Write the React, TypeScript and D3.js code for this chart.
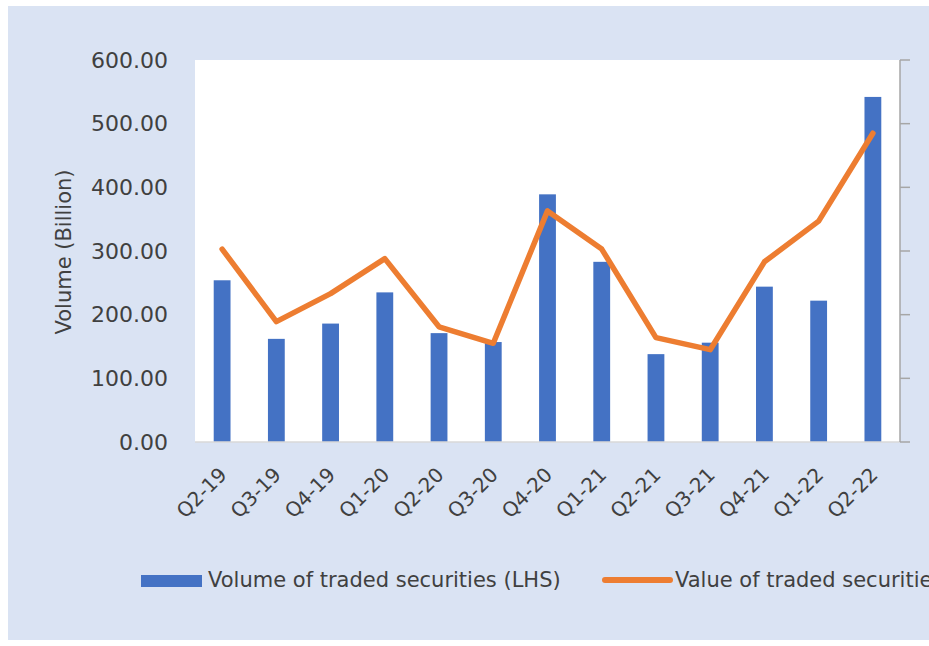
import React from "react";
import * as d3 from "d3";

const categories = ["Q2-19","Q3-19","Q4-19","Q1-20","Q2-20","Q3-20","Q4-20","Q1-21","Q2-21","Q3-21","Q4-21","Q1-22","Q2-22"];
const volume = [254, 162, 186, 235, 171, 157, 389, 283, 138, 156, 244, 222, 542];
const value = [303, 189, 233, 288, 181, 155, 363, 303, 164, 145, 283, 347, 485];
const yTicks = [0, 100, 200, 300, 400, 500, 600];
const legendLabels = ["Volume of traded securities (LHS)", "Value of traded securities (RHS)"];

const W = 929, H = 646;
const plot = { left: 195, right: 900, top: 60, bottom: 442 };
const font = "'DejaVu Sans', sans-serif";
const textColor = "#404040";

export default function App() {
  const x = d3.scaleBand<string>().domain(categories).range([plot.left, plot.right]).paddingInner(0.69).paddingOuter(0.345);
  const y = d3.scaleLinear().domain([0, 600]).range([plot.bottom, plot.top]);
  const yR = d3.scaleLinear().domain([0, 600]).range([plot.bottom, plot.top]);
  const line = d3.line<number>().x((_, i) => (x(categories[i]) as number) + x.bandwidth() / 2).y((d) => yR(d));

  return (
    <svg width={W} height={H} style={{ position: "absolute", left: 0, top: 0 }}>
      <rect x={8} y={6} width={W} height={634} fill="#DAE3F3" />
      <rect x={plot.left} y={plot.top} width={plot.right - plot.left} height={plot.bottom - plot.top} fill="#FFFFFF" />
      {volume.map((v, i) => (
        <rect key={i} x={x(categories[i])} y={y(v)} width={x.bandwidth()} height={y(0) - y(v)} fill="#4472C4" />
      ))}
      <line x1={plot.left} x2={plot.right} y1={plot.bottom} y2={plot.bottom} stroke="#D9D9D9" strokeWidth={1.5} />
      <line x1={plot.right} x2={plot.right} y1={plot.top} y2={plot.bottom} stroke="#A6A6A6" strokeWidth={1.5} />
      {yTicks.map((t) => (
        <line key={"rt" + t} x1={plot.right} x2={plot.right + 10} y1={yR(t)} y2={yR(t)} stroke="#A6A6A6" strokeWidth={1.5} />
      ))}
      <path d={line(value) || ""} fill="none" stroke="#ED7D31" strokeWidth={5.5} strokeLinejoin="round" strokeLinecap="round" />
      {yTicks.map((t) => (
        <text key={"yl" + t} x={168} y={y(t) + 7.8} textAnchor="end" fontFamily={font} fontSize={22} fill={textColor}>
          {d3.format(".2f")(t)}
        </text>
      ))}
      <text transform={`translate(71, 252) rotate(-90)`} textAnchor="middle" fontFamily={font} fontSize={21} fill={textColor}>
        Volume (Billion)
      </text>
      {categories.map((c) => (
        <text key={c} transform={`translate(${(x(c) as number) + x.bandwidth() / 2 + 6}, 476) rotate(-45)`} textAnchor="end" fontFamily={font} fontSize={20} fill={textColor}>
          {c}
        </text>
      ))}
      <rect x={141} y={575} width={61} height={12} fill="#4472C4" />
      <text x={208} y={587} fontFamily={font} fontSize={21} fill={textColor}>{legendLabels[0]}</text>
      <line x1={605} x2={670} y1={580} y2={580} stroke="#ED7D31" strokeWidth={6} strokeLinecap="round" />
      <text x={675} y={587} fontFamily={font} fontSize={21} fill={textColor}>{legendLabels[1]}</text>
    </svg>
  );
}
